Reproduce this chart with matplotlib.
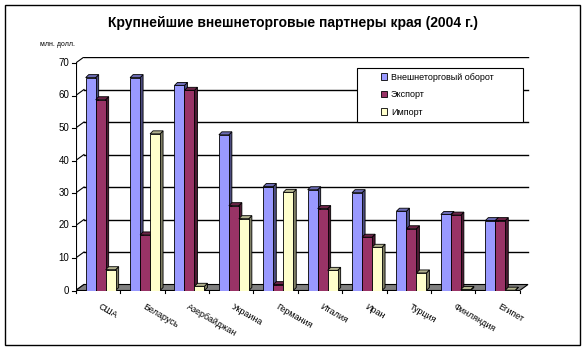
import matplotlib.pyplot as plt
from matplotlib.patches import Polygon, Rectangle, Patch

plt.rcParams['font.family'] = ['Liberation Sans', 'DejaVu Sans']

# data, млн. долл.
countries = ['США', 'Беларусь', 'Азербайджан', 'Украина', 'Германия',
             'Италия', 'Иран', 'Турция', 'Финляндия', 'Египет']
turnover = [65.5, 65.5, 63.1, 47.9, 32.0, 31.0, 30.1, 24.4, 23.4, 21.5]
export = [58.7, 17.1, 61.6, 26.1, 1.8, 25.2, 16.4, 19.0, 23.2, 21.5]
imports = [6.4, 48.2, 1.3, 22.1, 30.2, 6.2, 13.3, 5.4, 0.3, 0.1]
series_names = ['Внешнеторговый оборот', 'Экспорт', 'Импорт']
yticks = [0, 10, 20, 30, 40, 50, 60, 70]

# face, side, top colours per series
face_cols = ['#9999ff', '#993366', '#ffffcc']
side_cols = ['#4c4c80', '#4c1a33', '#808066']
top_cols = ['#6b6bb3', '#6b2447', '#b3b38f']

W, H = 585, 350
fig = plt.figure(figsize=(W / 100, H / 100), dpi=100)

# axes placed so that one category = 44.4 px and 10 units = 32.5 px
px_x, px_y = 44.4, 3.25
xmax, ymax = 10.3, 72
left, bottom = 75.7, H - 290.5
ax = fig.add_axes([left / W, bottom / H, xmax * px_x / W, ymax * px_y / H])
ax.set_xlim(0, xmax)
ax.set_ylim(0, ymax)
ax.axis('off')

# back wall offset and bar depth, in data units
wdx, wdy = 8.3 / px_x, 6.0 / px_y
bdx, bdy = 3.0 / px_x, 3.0 / px_y
n = len(countries)
bw = 0.225

# gray floor
ax.add_patch(Polygon([(0, 0), (n, 0), (n + wdx, wdy), (wdx, wdy)],
                     closed=True, facecolor='#808080', edgecolor='black',
                     lw=0.8, zorder=1))

# gridlines on back wall, diagonals on left wall
for v in yticks:
    ax.plot([0, wdx], [v, v + wdy], color='black', lw=0.8, zorder=0.5)
    if v > 0:
        ax.plot([wdx, n + wdx], [v + wdy, v + wdy], color='black', lw=1.0,
                zorder=0.5)
    ax.plot([-0.09, 0], [v, v], color='black', lw=0.8, clip_on=False)
    ax.text(-0.14, v, str(v), ha='right', va='center', fontsize=7)
ax.plot([0, 0], [0, yticks[-1]], color='black', lw=0.8, zorder=0.6)

# category axis
ax.plot([0, n], [0, 0], color='black', lw=0.8, zorder=2)
for i in range(n + 1):
    ax.plot([i, i], [0, -0.9], color='black', lw=0.8, clip_on=False)
for i, name in enumerate(countries):
    ax.text(i + 0.57, -3.6, name, rotation=-30, rotation_mode='anchor',
            ha='left', va='top', fontsize=6.5)

# 3d-looking bars
for i in range(n):
    vals = [turnover[i], export[i], imports[i]]
    for k in (2, 1, 0):
        x0 = i + bw + k * bw
        v = vals[k]
        z = 3 + k * 0.01
        ax.add_patch(Polygon([(x0 + bw, 0), (x0 + bw + bdx, bdy),
                              (x0 + bw + bdx, v + bdy), (x0 + bw, v)],
                             closed=True, facecolor=side_cols[k],
                             edgecolor='black', lw=0.6, zorder=z))
        ax.add_patch(Polygon([(x0, v), (x0 + bdx, v + bdy),
                              (x0 + bw + bdx, v + bdy), (x0 + bw, v)],
                             closed=True, facecolor=top_cols[k],
                             edgecolor='black', lw=0.6, zorder=z))
        ax.add_patch(Rectangle((x0, 0), bw, v, facecolor=face_cols[k],
                               edgecolor='black', lw=0.6, zorder=z + 0.005))

# legend: frame drawn separately so it can be wider than the entries
fig.add_artist(Rectangle((357 / W, 1 - 122 / H), 166 / W, 54 / H,
                         transform=fig.transFigure, facecolor='white',
                         edgecolor='black', lw=0.8, zorder=9))
handles = [Patch(facecolor=c, edgecolor='black', lw=0.6) for c in face_cols]
leg = fig.legend(handles, series_names, loc='upper left',
                 bbox_to_anchor=(381 / W, 1 - 72.5 / H), fontsize=6.5,
                 frameon=False, handlelength=0.7, handleheight=0.7,
                 handletextpad=0.4, labelspacing=0.95,
                 borderpad=0.0, borderaxespad=0)
leg.set_zorder(10)

fig.text(293 / W, 1 - 23 / H,
         'Крупнейшие внешнеторговые партнеры края (2004 г.)',
         ha='center', va='center', fontsize=10, fontweight='bold')
fig.text(40 / W, 1 - 45 / H, 'млн. долл.', ha='left', va='center',
         fontsize=5)

# chart border
fig.add_artist(Rectangle((4.5 / W, 5 / H), 575 / W, 340.5 / H,
                         transform=fig.transFigure, fill=False,
                         edgecolor='black', lw=1.0))

fig.savefig('out.png', dpi=100)
